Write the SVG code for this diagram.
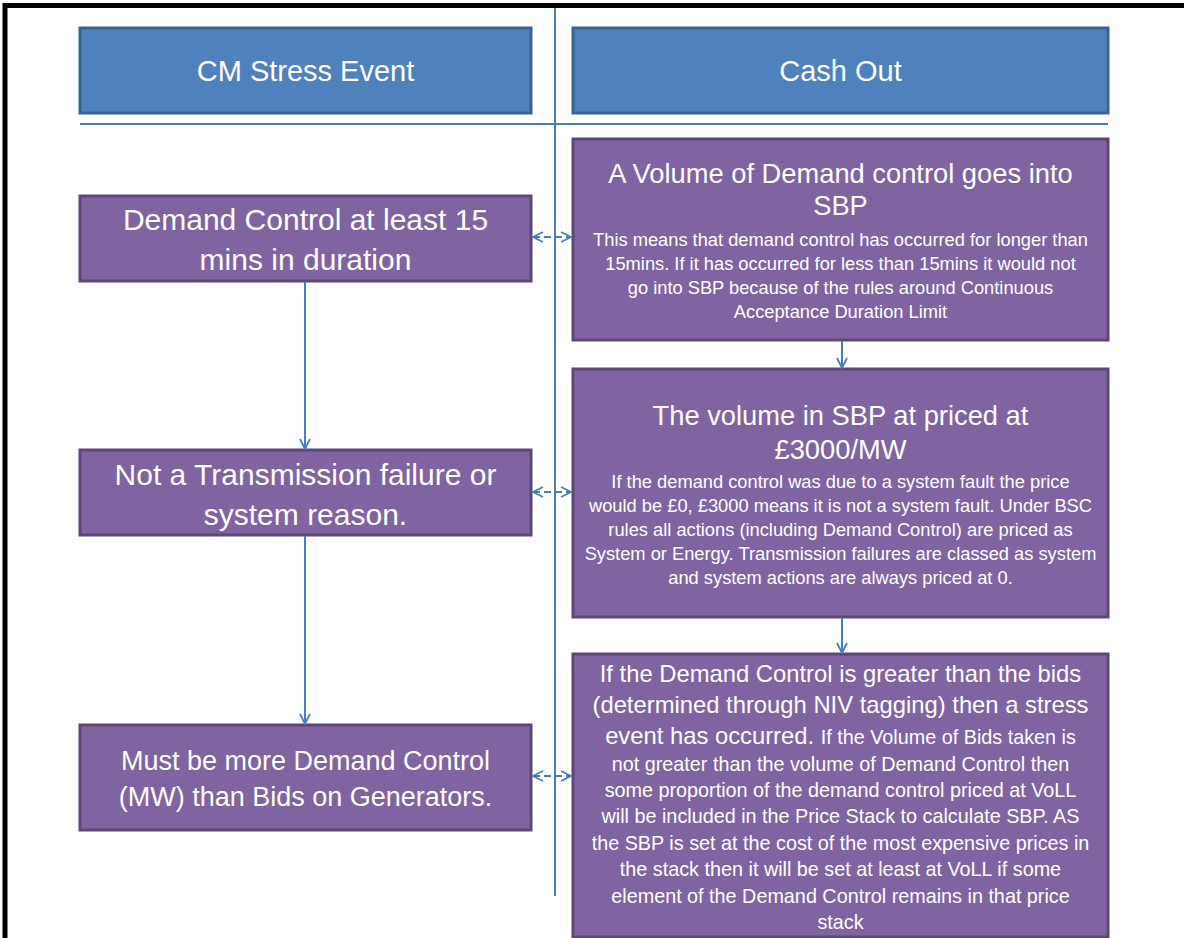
<svg xmlns="http://www.w3.org/2000/svg" width="1184" height="938" viewBox="0 0 1184 938">
<defs>
<style>
.hdr{fill:#4F81BD;stroke:#3A6291;stroke-width:3}
.box{fill:#8064A2;stroke:#5C4776;stroke-width:3}
.t{font-family:"Liberation Sans",Arial,sans-serif;fill:#FFFFFF;text-anchor:middle}
.h{font-size:29px}
.l{font-size:30px}
.l3{font-size:27px}
.rt{font-size:27.3px}
.rb{font-size:18.3px}
.r3{font-size:23.8px}
.r3b{font-size:19.8px}
.ln{stroke:#4A7EBB;stroke-width:2;fill:none}
.dash{stroke:#4A7EBB;stroke-width:2;fill:none;stroke-dasharray:7,4}
</style>
<marker id="ah" viewBox="0 0 12 12" refX="11" refY="6" markerWidth="12" markerHeight="12" markerUnits="userSpaceOnUse" orient="auto-start-reverse">
<path d="M1,1 L11,6 L1,11" fill="none" stroke="#4A7EBB" stroke-width="1.8"/>
</marker>
</defs>
<rect width="1184" height="938" fill="#FFFFFF"/>
<path d="M5,938 V5.5 H1184" fill="none" stroke="#000000" stroke-width="5"/>
<g id="guides">
<line class="ln" x1="555" y1="8" x2="555" y2="896"/>
<line class="ln" x1="80" y1="124" x2="1108" y2="124"/>
</g>
<g id="hdr-cm"><rect class="hdr" x="80" y="28" width="451" height="85"/><text class="t h" x="305.5" y="81">CM Stress Event</text></g>
<g id="hdr-cash"><rect class="hdr" x="573" y="28" width="535" height="85"/><text class="t h" x="840.5" y="81">Cash Out</text></g>
<g id="l1"><rect class="box" x="80" y="196" width="451" height="85"/><text class="t l" x="305.5" y="230">Demand Control at least 15</text><text class="t l" x="305.5" y="270">mins in duration</text></g>
<g id="l2"><rect class="box" x="80" y="450" width="451" height="85"/><text class="t l" x="305.5" y="485">Not a Transmission failure or</text><text class="t l" x="305.5" y="525">system reason.</text></g>
<g id="l3"><rect class="box" x="80" y="725" width="451" height="105"/><text class="t l3" x="305.5" y="770">Must be more Demand Control</text><text class="t l3" x="305.5" y="806">(MW) than Bids on Generators.</text></g>
<g id="r1"><rect class="box" x="573" y="139" width="535" height="201"/>
<text class="t rt" x="840.5" y="183">A Volume of Demand control goes into</text>
<text class="t rt" x="840.5" y="215">SBP</text>
<text class="t rb" x="840.5" y="246">This means that demand control has occurred for longer than</text>
<text class="t rb" x="840.5" y="270">15mins. If it has occurred for less than 15mins it would not</text>
<text class="t rb" x="840.5" y="294">go into SBP because of the rules around  Continuous</text>
<text class="t rb" x="840.5" y="318">Acceptance Duration Limit</text>
</g>
<g id="r2"><rect class="box" x="573" y="369" width="535" height="248"/>
<text class="t rt" x="840.5" y="425">The volume in SBP at priced at</text>
<text class="t rt" x="840.5" y="459">£3000/MW</text>
<text class="t rb" x="840.5" y="488">If the demand control was due to a system fault the price</text>
<text class="t rb" x="840.5" y="512">would be £0, £3000 means it is not a system fault. Under BSC</text>
<text class="t rb" x="840.5" y="536">rules all actions (including Demand Control) are priced as</text>
<text class="t rb" x="840.5" y="560">System or Energy. Transmission failures are classed as system</text>
<text class="t rb" x="840.5" y="584">and system actions are always priced at 0.</text>
</g>
<g id="r3"><rect class="box" x="573" y="654" width="535" height="283"/>
<text class="t r3" x="840.5" y="682">If the Demand Control is greater than the bids</text>
<text class="t r3" x="840.5" y="713">(determined through NIV tagging) then a stress</text>
<text class="t" x="840.5" y="744"><tspan class="r3">event has occurred. </tspan><tspan class="r3b">If the Volume of Bids taken is</tspan></text>
<text class="t r3b" x="840.5" y="771">not greater than the volume of Demand Control then</text>
<text class="t r3b" x="840.5" y="797">some proportion of the demand control priced at VoLL</text>
<text class="t r3b" x="840.5" y="823">will be included in the Price Stack to calculate SBP. AS</text>
<text class="t r3b" x="840.5" y="850">the SBP is set at the cost of the most expensive prices in</text>
<text class="t r3b" x="840.5" y="876">the stack then it will be set at least at VoLL if some</text>
<text class="t r3b" x="840.5" y="903">element of the Demand Control remains in that price</text>
<text class="t r3b" x="840.5" y="929">stack</text>
</g>
<g id="connectors">
<line class="ln" x1="305" y1="282" x2="305" y2="449" marker-end="url(#ah)"/>
<line class="ln" x1="305" y1="536" x2="305" y2="724" marker-end="url(#ah)"/>
<line class="ln" x1="842" y1="341" x2="842" y2="368" marker-end="url(#ah)"/>
<line class="ln" x1="842" y1="618" x2="842" y2="653" marker-end="url(#ah)"/>
<line class="dash" x1="533" y1="237" x2="571" y2="237" marker-start="url(#ah)" marker-end="url(#ah)"/>
<line class="dash" x1="533" y1="492" x2="571" y2="492" marker-start="url(#ah)" marker-end="url(#ah)"/>
<line class="dash" x1="533" y1="776" x2="571" y2="776" marker-start="url(#ah)" marker-end="url(#ah)"/>
</g>
</svg>
